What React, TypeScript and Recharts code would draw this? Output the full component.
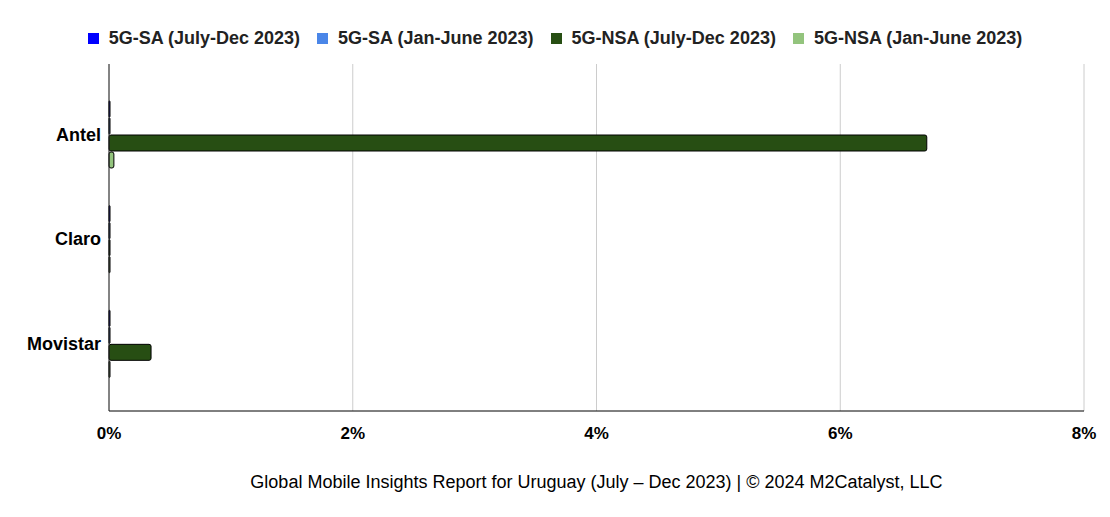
import React from "react";
import {
  BarChart,
  Bar,
  XAxis,
  YAxis,
  CartesianGrid,
  Legend,
  Label,
} from "recharts";

const operators = ["Antel", "Claro", "Movistar"];
const saJulDec = [0, 0, 0];
const saJanJun = [0, 0, 0];
const nsaJulDec = [6.71, 0, 0.345];
const nsaJanJun = [0.04, 0, 0];
const xTicks = [0, 2, 4, 6, 8];

const series = [
  { key: "saJulDec", name: "5G-SA (July-Dec 2023)", color: "#0000ff" },
  { key: "saJanJun", name: "5G-SA (Jan-June 2023)", color: "#4a86e8" },
  { key: "nsaJulDec", name: "5G-NSA (July-Dec 2023)", color: "#274e13" },
  { key: "nsaJanJun", name: "5G-NSA (Jan-June 2023)", color: "#93c47d" },
];

const caption =
  "Global Mobile Insights Report for Uruguay (July – Dec 2023) | © 2024 M2Catalyst, LLC";

const data = operators.map((name, i) => ({
  name,
  saJulDec: saJulDec[i],
  saJanJun: saJanJun[i],
  nsaJulDec: nsaJulDec[i],
  nsaJanJun: nsaJanJun[i],
}));

const font = "'Liberation Sans', Arial, sans-serif";

function LegendRow() {
  return (
    <div
      style={{
        display: "flex",
        justifyContent: "center",
        gap: 17,
        height: 24,
        fontFamily: font,
        fontSize: 18,
        fontWeight: 700,
        color: "#222",
      }}
    >
      {series.map((s) => (
        <div key={s.key} style={{ display: "flex", alignItems: "center" }}>
          <span
            style={{
              width: 11,
              height: 11,
              background: s.color,
              marginRight: 10,
              display: "inline-block",
            }}
          />
          <span>{s.name}</span>
        </div>
      ))}
    </div>
  );
}

export default function App() {
  return (
    <div style={{ width: 1094, height: 501, background: "#fff" }}>
      <BarChart
        width={1094}
        height={501}
        data={data}
        layout="vertical"
        margin={{ top: 32, right: 18, bottom: 0, left: 0 }}
        barCategoryGap={19}
        barGap={1}
      >
        <CartesianGrid horizontal={false} stroke="#cccccc" />
        <XAxis
          type="number"
          domain={[0, 8]}
          ticks={xTicks}
          tickFormatter={(v) => `${v}%`}
          axisLine={{ stroke: "#000" }}
          tickLine={false}
          tickSize={0}
          tickMargin={16}
          height={98}
          tick={{ fill: "#000", fontSize: 17, fontWeight: 700, fontFamily: font }}
        >
          <Label
            value={caption}
            position="insideBottom"
            offset={21}
            fill="#000"
            fontSize={18}
            fontFamily={font}
          />
        </XAxis>
        <YAxis
          type="category"
          dataKey="name"
          width={101}
          padding={{ top: 18, bottom: 15 }}
          axisLine={{ stroke: "#222" }}
          tickLine={false}
          tickSize={0}
          tickMargin={8}
          tick={{ fill: "#000", fontSize: 18, fontWeight: 700, fontFamily: font }}
        />
        <Legend
          verticalAlign="top"
          content={() => <LegendRow />}
          wrapperStyle={{ top: 18, left: 0, width: 1094 }}
        />
        {series.map((s) => (
          <Bar
            key={s.key}
            dataKey={s.key}
            name={s.name}
            fill={s.color}
            stroke="#000"
            strokeWidth={1}
            radius={2}
            minPointSize={1}
            isAnimationActive={false}
          />
        ))}
      </BarChart>
    </div>
  );
}
